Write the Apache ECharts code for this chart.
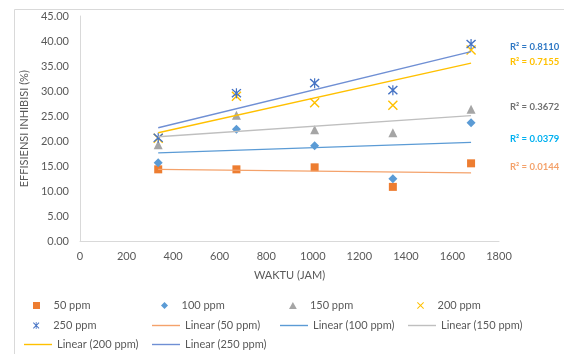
<!DOCTYPE html>
<html>
<head>
<meta charset="utf-8">
<script src="https://cdn.jsdelivr.net/npm/echarts@6/dist/echarts.min.js"></script>
<style>html,body{margin:0;padding:0;background:#fff}#c{width:564px;height:354px}</style>
</head>
<body>
<div id="c"></div>
<script>
// Data
var hours = [336, 672, 1008, 1344, 1680];
var ppm50  = [14.4, 14.4, 14.8, 10.9, 15.6];
var ppm100 = [15.7, 22.4, 19.1, 12.5, 23.7];
var ppm150 = [19.3, 25.2, 22.3, 21.7, 26.4];
var ppm200 = [20.6, 29.0, 27.7, 27.2, 38.2];
var ppm250 = [20.7, 29.6, 31.6, 30.2, 39.4];
// Linear trendline endpoints (at first and last hour)
var trendX = [336, 1680];
var trend50  = [14.4, 13.7];
var trend100 = [17.7, 19.8];
var trend150 = [20.9, 25.1];
var trend200 = [21.7, 35.6];
var trend250 = [22.7, 37.9];
var r2Labels = ['R² = 0.8110', 'R² = 0.7155', 'R² = 0.3672', 'R² = 0.0379', 'R² = 0.0144'];
var seriesNames = ['50 ppm', '100 ppm', '150 ppm', '200 ppm', '250 ppm'];
var trendNames = ['Linear (50 ppm)', 'Linear (100 ppm)', 'Linear (150 ppm)', 'Linear (200 ppm)', 'Linear (250 ppm)'];

var FONT = 'Lato';
var TXT = '#595959';
var PATH_SQ = 'path://M0,0H10V10H0Z';
var PATH_DIA = 'path://M5,0L10,5L5,10L0,5Z';
var PATH_TRI = 'path://M5,0L10,9L0,9Z';
var PATH_X = 'path://M0,1L1,0L10,9L9,10Z M9,0L10,1L1,10L0,9Z';
var PATH_AST = 'path://M0,1L1,0L10,9L9,10Z M9,0L10,1L1,10L0,9Z M4.4,-0.5H5.6V10.5H4.4Z';
var PATH_LINE = 'path://M0,0H28V1.4H0Z';

var colors = ['#ED7D31', '#5B9BD5', '#A5A5A5', '#FFC000', '#4472C4'];
var trendColors = ['#F4A26B', '#5B9BD5', '#BFBFBF', '#FFC000', '#6F8FD4'];
var symbols = ['rect', 'diamond', 'triangle', PATH_X, PATH_AST];
var legendIcons = [PATH_SQ, PATH_DIA, PATH_TRI, PATH_X, PATH_AST];
var sizes = [8, 9, 9, 10, 10];

function pairs(xs, ys) { return xs.map(function (x, i) { return [x, ys[i]]; }); }
var pts = [ppm50, ppm100, ppm150, ppm200, ppm250];
var trends = [trend50, trend100, trend150, trend200, trend250];

var series = [];
pts.forEach(function (arr, i) {
  series.push({
    name: seriesNames[i], type: 'scatter', data: pairs(hours, arr),
    symbol: symbols[i], symbolSize: sizes[i], z: 2,
    itemStyle: { color: colors[i], opacity: 1 }
  });
});
trends.forEach(function (arr, i) {
  series.push({
    name: trendNames[i], type: 'line', data: pairs(trendX, arr),
    symbol: 'none', showSymbol: false, z: 3, silent: true,
    lineStyle: { color: trendColors[i], width: 1.3 },
    itemStyle: { color: trendColors[i] }
  });
});

// Legend layout: 4 columns, 3 rows
var legendOrder = seriesNames.concat(trendNames);
var colX = [25, 153, 281, 409];
var rowY = [300, 320, 339];
var legends = legendOrder.map(function (nm, k) {
  var d = { name: nm, icon: k < 5 ? legendIcons[k] : PATH_LINE };
  return {
    data: [d], left: k < 5 ? colX[k % 4] + 8 : colX[k % 4] - 1, top: rowY[Math.floor(k / 4)], padding: 0,
    itemWidth: k < 5 ? 24 : 28, itemHeight: 7, selectedMode: false,
    textStyle: { fontFamily: FONT, fontSize: 11, color: TXT }
  };
});

var r2Colors = ['#2F78C4', '#FFC000', '#707070', '#00B0F0', '#F4A26B'];
var r2Y = [47.7, 63, 107.7, 140, 167.7];
var graphics = [{
  type: 'rect', shape: { x: 14.5, y: 9.5, width: 600, height: 400 }, silent: true,
  style: { fill: 'none', stroke: '#D9D9D9', lineWidth: 1 }
}];
r2Labels.forEach(function (t, i) {
  graphics.push({
    type: 'text', left: 510, top: r2Y[i] - 6, silent: true,
    style: { text: t, fill: r2Colors[i], font: 'bold 9.5px ' + FONT }
  });
});

var chart = echarts.init(document.getElementById('c'), null, { renderer: 'canvas' });
chart.setOption({
  animation: false,
  backgroundColor: '#fff',
  grid: { left: 80, top: 16, right: 65, bottom: 112.5, containLabel: false },
  xAxis: {
    type: 'value', min: 0, max: 1800, interval: 200,
    name: 'WAKTU (JAM)', nameLocation: 'middle', nameGap: 28,
    nameTextStyle: { fontFamily: FONT, fontSize: 11, color: TXT },
    axisLine: { show: true, lineStyle: { color: '#D9D9D9', width: 1 } },
    axisTick: { show: false }, splitLine: { show: false },
    axisLabel: { margin: 9, fontFamily: FONT, fontSize: 11, color: TXT,
      formatter: function (v) { return String(v); } }
  },
  yAxis: {
    type: 'value', min: 0, max: 45, interval: 5,
    name: 'EFFISIENSI INHIBISI (%)', nameLocation: 'middle', nameGap: 39, nameRotate: 90,
    nameTextStyle: { fontFamily: FONT, fontSize: 11, color: TXT },
    axisLine: { show: true, lineStyle: { color: '#D9D9D9', width: 1 } },
    axisTick: { show: false }, splitLine: { show: false },
    axisLabel: { margin: 11, fontFamily: FONT, fontSize: 11, color: TXT,
      formatter: function (v) { return v.toFixed(2); } }
  },
  legend: legends,
  series: series,
  graphic: graphics
});
</script>
</body>
</html>
